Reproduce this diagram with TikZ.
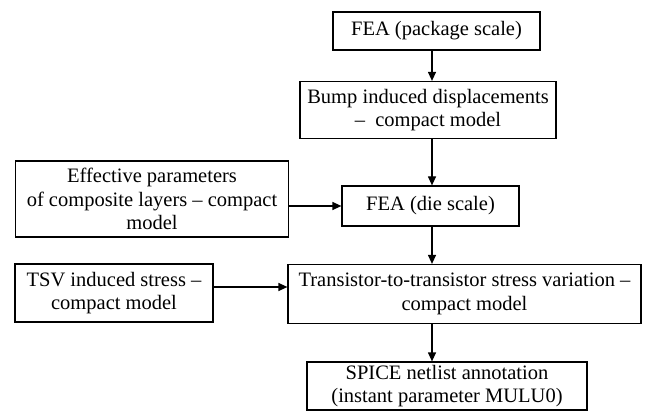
\documentclass[tikz,border=0pt]{standalone}
\usepackage{fontspec}
\setmainfont{Liberation Serif}
\usetikzlibrary{arrows.meta}
\begin{document}
\begin{tikzpicture}[x=1pt,y=1pt,
  box/.style={draw, line width=1.2pt, align=center, inner sep=0pt,
    font=\fontsize{20.5}{23.5}\selectfont},
  arr/.style={line width=1.2pt, -{Triangle[length=9pt,width=8pt]}}]
\useasboundingbox (0,0) rectangle (645,-414);
\node[box, minimum width=207, minimum height=38] (pkg) at (436.5,-31) {FEA (package scale)};
\node[box, minimum width=256, minimum height=57] (bump) at (428,-110) {Bump induced displacements\\ – \ compact model};
\node[box, minimum width=273, minimum height=76] (eff) at (152,-199) {Effective parameters\\of composite layers – compact\\model};
\node[box, minimum width=177, minimum height=40] (die) at (430.5,-206) {FEA (die scale)};
\node[box, minimum width=198, minimum height=58] (tsv) at (114,-293) {TSV induced stress –\\compact model};
\node[box, minimum width=353, minimum height=59] (tr) at (464.5,-294) {Transistor-to-transistor stress variation –\\compact model};
\node[box, minimum width=280, minimum height=48] (spice) at (447,-386) {SPICE netlist annotation\\(instant parameter MULU0)};
\coordinate (a1) at (432,0);
\draw[arr] (a1 |- pkg.south) -- (a1 |- bump.north);
\draw[arr] (a1 |- bump.south) -- (a1 |- die.north);
\draw[arr] (eff.east |- die.west) -- (die.west);
\draw[arr] (a1 |- die.south) -- (a1 |- tr.north);
\coordinate (a2) at (0,-287);
\draw[arr] (tsv.east |- a2) -- (tr.west |- a2);
\draw[arr] (a1 |- tr.south) -- (a1 |- spice.north);
\end{tikzpicture}
\end{document}
